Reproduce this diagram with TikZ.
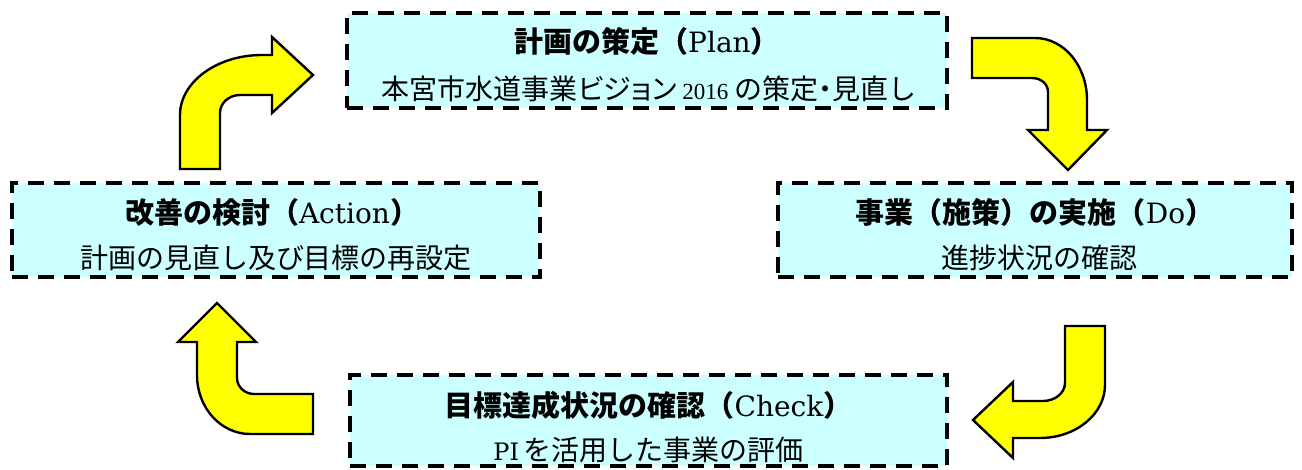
\documentclass[tikz,border=0pt]{standalone}
\usepackage{fontspec}
\setmainfont{Liberation Serif}
\newfontfamily\jp{Noto Sans CJK JP}
\newfontfamily\jpp{Noto Sans CJK JP}[RawFeature=+palt]
\newfontfamily\lserif{DejaVu Serif}
\usetikzlibrary{calc}
\definecolor{boxfill}{HTML}{CCFFFF}
\definecolor{arrowfill}{HTML}{FFFF00}
\newcommand{\jt}[1]{{\jp\bfseries #1}}
\newcommand{\js}[1]{{\jp #1}}
\newcommand{\jsp}[1]{{\jpp #1}}
\newcommand{\lt}[1]{{\lserif\fontsize{28}{28}\selectfont #1}}
\begin{document}
\begin{tikzpicture}[x=1pt,y=-1pt,
  pdcabox/.style={draw=black, line width=4pt, dash pattern=on 16pt off 10pt,
    fill=boxfill, inner sep=0pt, outer sep=0pt, anchor=north west},
  bendarrow/.style={draw=black, line width=2.4pt, fill=arrowfill, line join=miter},
  titletext/.style={font=\fontsize{29}{29}\selectfont, inner sep=0pt, anchor=center},
  subtext/.style={font=\fontsize{28}{28}\selectfont, inner sep=0pt, anchor=center},
]
\useasboundingbox (0,0) rectangle (1302,470);

% boxes
\node[pdcabox, minimum width=600pt, minimum height=95pt] (plan) at (347,13) {};
\node[pdcabox, minimum width=528pt, minimum height=94pt] (action) at (12,183) {};
\node[pdcabox, minimum width=514pt, minimum height=94pt] (do) at (778,183) {};
\node[pdcabox, minimum width=597pt, minimum height=91pt] (check) at (350,375) {};

% texts
\node[titletext] (plantitle) at ($(plan.north)+(0,28)$) {\jt{計画の策定（}\lt{Plan}\jt{）}};
\node[subtext] (plansub) at ($(plan.north)+(2,76)$) {\js{本宮市水道事業}\jsp{ビジョン}{\fontsize{23}{23}\selectfont{} 2016 }\js{の策定}\jsp{・}\js{見直し}};

\node[titletext] (actiontitle) at ($(action.north)+(-4,29)$) {\jt{改善の検討（}\lt{Action}\jt{）}};
\node[subtext] (actionsub) at ($(action.north)+(0,75)$) {\js{計画の見直し及び目標の再設定}};

\node[titletext] (dotitle) at ($(do.north)+(0,29)$) {\jt{事業（施策）の実施（}\lt{Do}\jt{）}};
\node[subtext] (dosub) at ($(do.north)+(4,75)$) {\js{進捗状況の確認}};

\node[titletext] (checktitle) at ($(check.north)+(0,30)$) {\jt{目標達成状況の確認（}\lt{Check}\jt{）}};
\node[subtext] (checksub) at ($(check.north)+(0,75)$) {{\lserif\fontsize{24}{24}\selectfont PI}\,\js{を活用した事業の評価}};

% bent arrows
% Action -> Plan
\draw[bendarrow] (180,169) -- (180,115)
  .. controls (180,82) and (217,55) .. (262,55)
  -- (272,55) -- (272,37) -- (313,75) -- (272,113) -- (272,95) -- (240,95)
  .. controls (229,95) and (220,103) .. (220,113)
  -- (220,169) -- cycle;
% Plan -> Do
\draw[bendarrow] (972,38) -- (1035,38)
  .. controls (1064,38) and (1087,66) .. (1087,100)
  -- (1087,130) -- (1107,130) -- (1068,170) -- (1028,130) -- (1048,130) -- (1048,92)
  .. controls (1048,84) and (1041,78) .. (1032,78)
  -- (972,78) -- cycle;
% Do -> Check
\draw[bendarrow] (1065,326) -- (1105,326) -- (1105,385)
  .. controls (1105,414) and (1076,438) .. (1040,438)
  -- (1013,438) -- (1013,458) -- (973,420) -- (1013,382) -- (1013,401) -- (1043,401)
  .. controls (1055,401) and (1065,393) .. (1065,383)
  -- cycle;
% Check -> Action
\draw[bendarrow] (313,394) -- (313,434) -- (250,434)
  .. controls (221,434) and (197,408) .. (197,375)
  -- (197,342) -- (178,342) -- (217,303) -- (256,342) -- (237,342) -- (237,378)
  .. controls (237,387) and (245,394) .. (254,394)
  -- cycle;
\end{tikzpicture}
\end{document}
